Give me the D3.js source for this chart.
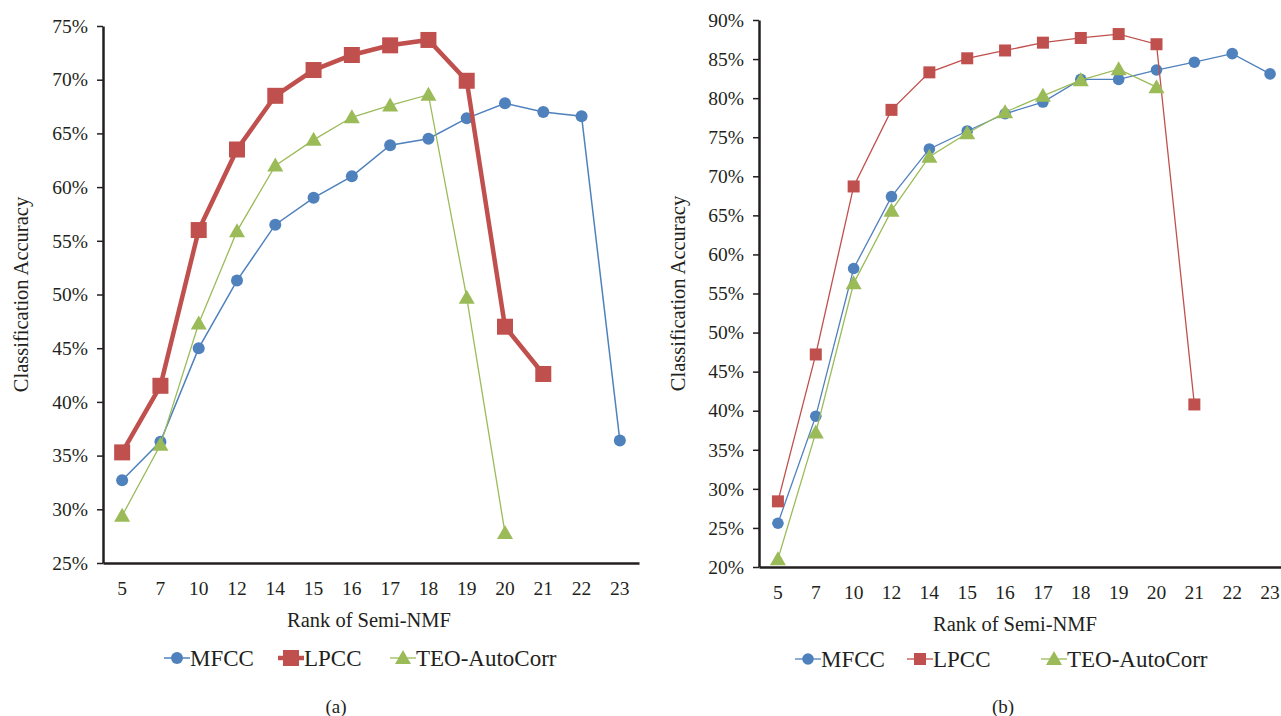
<!DOCTYPE html>
<html>
<head>
<meta charset="utf-8">
<script src="https://cdnjs.cloudflare.com/ajax/libs/d3/7.8.5/d3.min.js"></script>
<style>
  body { margin: 0; background: #fff; }
  text { font-family: "Liberation Serif", "DejaVu Serif", serif; fill: #231f20; }
</style>
</head>
<body>
<div id="chart"></div>
<script>
// data (percent)
var ranks = ["5","7","10","12","14","15","16","17","18","19","20","21","22","23"];

var mfccA = [32.7, 36.3, 45.0, 51.3, 56.5, 59.0, 61.0, 63.9, 64.5, 66.4, 67.8, 67.0, 66.6, 36.4];
var lpccA = [35.3, 41.5, 56.0, 63.5, 68.5, 70.9, 72.3, 73.2, 73.7, 69.9, 47.0, 42.6, null, null];
var teoA  = [29.4, 36.0, 47.3, 55.9, 62.0, 64.4, 66.5, 67.6, 68.6, 49.7, 27.8, null, null, null];

var mfccB = [25.6, 39.3, 58.2, 67.4, 73.5, 75.8, 78.0, 79.5, 82.4, 82.4, 83.6, 84.6, 85.7, 83.1];
var lpccB = [28.4, 47.2, 68.7, 78.5, 83.3, 85.1, 86.1, 87.1, 87.7, 88.2, 86.9, 40.8, null, null];
var teoB  = [21.0, 37.2, 56.3, 65.6, 72.5, 75.5, 78.2, 80.3, 82.3, 83.7, 81.4, null, null, null];

var seriesNames = ["MFCC", "LPCC", "TEO-AutoCorr"];
var colors = {MFCC: "#4f81bd", LPCC: "#c0504d", "TEO-AutoCorr": "#9bbb59"};

var svg = d3.select("#chart").append("svg")
  .attr("width", 1281)
  .attr("height", 716);

// one marker per series
function marker(g, name, cx, cy, big) {
  var c = colors[name];
  if (name == "MFCC") {
    g.append("circle").attr("cx", cx).attr("cy", cy).attr("r", big ? 6 : 5.8).attr("fill", c);
  } else if (name == "LPCC") {
    var s = big ? 16 : 12;
    g.append("rect").attr("x", cx - s/2).attr("y", cy - s/2).attr("width", s).attr("height", s).attr("fill", c);
  } else {
    var t = 8;
    g.append("path")
      .attr("d", "M" + cx + "," + (cy - t) + "L" + (cx + t) + "," + (cy + t*0.75) + "L" + (cx - t) + "," + (cy + t*0.75) + "Z")
      .attr("fill", c);
  }
}

function panel(cfg) {
  var g = svg.append("g");

  var x = d3.scaleBand().domain(ranks).range([cfg.left, cfg.right]).paddingInner(0).paddingOuter(0);
  var y = d3.scaleLinear().domain(cfg.ydomain).range([cfg.bottom, cfg.top]);

  // y axis
  var yAxis = g.append("g")
    .attr("transform", "translate(" + cfg.left + ",0)")
    .call(d3.axisLeft(y).tickValues(d3.range(cfg.ydomain[0], cfg.ydomain[1] + 0.1, 5))
      .tickFormat(function(d) { return d + "%"; }).tickSize(6).tickSizeOuter(0).tickPadding(9));
  yAxis.select(".domain").attr("stroke", "#231f20").attr("stroke-width", 2.5);
  yAxis.selectAll(".tick line").attr("stroke", "#231f20").attr("stroke-width", 1.5);
  yAxis.selectAll("text").style("font-size", "19.5px").attr("fill", "#231f20");

  // x axis
  var xAxis = g.append("g")
    .attr("transform", "translate(0," + cfg.bottom + ")")
    .call(d3.axisBottom(x).tickSize(0).tickSizeOuter(0).tickPadding(18));
  xAxis.select(".domain").attr("stroke", "#231f20").attr("stroke-width", 2.5);
  xAxis.selectAll("text").style("font-size", "19.5px").attr("fill", "#231f20");

  // axis titles
  g.append("text")
    .attr("transform", "translate(" + cfg.ytitleX + "," + ((cfg.top + cfg.bottom) / 2) + ") rotate(-90)")
    .attr("text-anchor", "middle")
    .style("font-size", "20.5px")
    .text("Classification Accuracy");
  g.append("text")
    .attr("x", cfg.xtitleX).attr("y", cfg.bottom + 64)
    .attr("text-anchor", "middle")
    .style("font-size", "20.5px")
    .text("Rank of Semi-NMF");

  // lines and markers
  cfg.data.forEach(function(vals, i) {
    var name = seriesNames[i];
    var pts = ranks.map(function(r, j) { return {r: r, v: vals[j]}; })
      .filter(function(d) { return d.v != null; });
    var lw = cfg.widths[i];
    g.append("path")
      .datum(pts)
      .attr("fill", "none")
      .attr("stroke", colors[name])
      .attr("stroke-width", lw)
      .attr("d", d3.line()
        .x(function(d) { return x(d.r) + x.bandwidth() / 2; })
        .y(function(d) { return y(d.v); }));
    pts.forEach(function(d) {
      marker(g, name, x(d.r) + x.bandwidth() / 2, y(d.v), cfg.big[i]);
    });
  });

  // legend
  cfg.legend.forEach(function(lx, i) {
    var name = seriesNames[i];
    var lg = g.append("g");
    lg.append("line")
      .attr("x1", lx - 13).attr("x2", lx + 13)
      .attr("y1", cfg.legendY).attr("y2", cfg.legendY)
      .attr("stroke", colors[name]).attr("stroke-width", cfg.widths[i]);
    marker(lg, name, lx, cfg.legendY, cfg.big[i]);
    lg.append("text")
      .attr("x", lx + 13).attr("y", cfg.legendY + 8)
      .style("font-size", "23px")
      .text(name);
  });

  g.append("text")
    .attr("x", cfg.capX).attr("y", 713)
    .attr("text-anchor", "middle")
    .style("font-size", "19px")
    .text(cfg.caption);
}

panel({
  left: 103, right: 639, top: 26, bottom: 563,
  ydomain: [25, 75],
  data: [mfccA, lpccA, teoA],
  widths: [1.5, 4.5, 1.3],
  big: [true, true, true],
  ytitleX: 28, xtitleX: 369,
  legend: [177, 291, 403], legendY: 658,
  capX: 336, caption: "(a)"
});

panel({
  left: 759, right: 1289, top: 20, bottom: 567,
  ydomain: [20, 90],
  data: [mfccB, lpccB, teoB],
  widths: [1.3, 1.3, 1.3],
  big: [false, false, false],
  ytitleX: 685, xtitleX: 1015,
  legend: [808, 920, 1054], legendY: 659,
  capX: 1003, caption: "(b)"
});
</script>
</body>
</html>
